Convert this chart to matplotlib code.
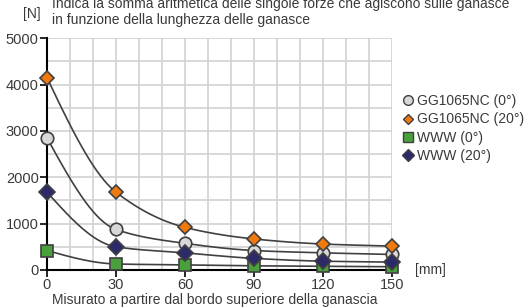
import numpy as np
import matplotlib
matplotlib.use('Agg')
import matplotlib.pyplot as plt
from matplotlib.lines import Line2D

plt.rcParams['font.family'] = ['Liberation Sans', 'DejaVu Sans']

# dati
lunghezza = [0, 30, 60, 90, 120, 150]
gg_0 = [2850, 875, 575, 420, 370, 335]
gg_20 = [4150, 1680, 920, 670, 560, 515]
alt_0 = [420, 130, 110, 90, 80, 70]
alt_20 = [1680, 500, 370, 250, 190, 170]

serie = [
    ('GG1065NC (0°)', gg_0, 'o', '#d8d8d8', 9),
    ('GG1065NC (20°)', gg_20, 'D', '#f07a10', 7),
    ('WWW (0°)', alt_0, 's', '#4aa03c', 9),
    ('WWW (20°)', alt_20, 'D', '#2d2a6a', 8),
]

col_testo = '#3a3a3a'


def curva_morbida(x, y, n=40):
    # curva cubica monotona (Fritsch-Carlson) solo per disegnare la linea
    x = np.asarray(x, float)
    y = np.asarray(y, float)
    h = np.diff(x)
    d = np.diff(y) / h
    m = np.zeros_like(y)
    m[-1] = d[-1]
    for i in range(1, len(x) - 1):
        if d[i - 1] * d[i] > 0:
            w1 = 2 * h[i] + h[i - 1]
            w2 = h[i] + 2 * h[i - 1]
            m[i] = (w1 + w2) / (w1 / d[i - 1] + w2 / d[i])
    m[0] = 1.5 * d[0] - 0.5 * m[1]
    xs, ys = [], []
    for i in range(len(x) - 1):
        t = np.linspace(0, 1, n)
        h00 = 2 * t**3 - 3 * t**2 + 1
        h10 = t**3 - 2 * t**2 + t
        h01 = -2 * t**3 + 3 * t**2
        h11 = t**3 - t**2
        xs.append(x[i] + t * h[i])
        ys.append(h00 * y[i] + h10 * h[i] * m[i] + h01 * y[i + 1] + h11 * h[i] * m[i + 1])
    return np.concatenate(xs), np.concatenate(ys)


fig = plt.figure(figsize=(5.25, 3.08), dpi=100)
ax = fig.add_axes([0.0895, 0.1234, 0.657, 0.7523])

ax.set_xlim(0, 150)
ax.set_ylim(0, 5000)
ax.set_xticks(range(0, 151, 30))
ax.set_xticks(range(0, 151, 10), minor=True)
ax.set_yticks(range(0, 5001, 1000))
ax.set_yticks(range(0, 5001, 500), minor=True)
ax.grid(True, which='both', color='#d2d2d2', linewidth=1.2)
ax.set_axisbelow(True)

for s in ['top', 'right']:
    ax.spines[s].set_visible(False)
for s in ['left', 'bottom']:
    ax.spines[s].set_color('black')
    ax.spines[s].set_linewidth(1.5)
ax.tick_params(which='major', length=5, width=1.2, color='black',
               labelsize=10.5, labelcolor=col_testo, pad=1)
ax.tick_params(which='minor', length=0)

handles = []
for nome, valori, mk, colore, ms in serie:
    xs, ys = curva_morbida(lunghezza, valori)
    ax.plot(xs, ys, color='#404040', linewidth=1.2, zorder=3, clip_on=False)
    ax.plot(lunghezza, valori, linestyle='none', marker=mk, markersize=ms,
            markerfacecolor=colore, markeredgecolor='#404040',
            markeredgewidth=1.2, zorder=4, clip_on=False)
    handles.append(Line2D([], [], linestyle='none', marker=mk, markersize=ms - 2,
                          markerfacecolor=colore, markeredgecolor='#404040',
                          markeredgewidth=1.0, label=nome))

leg = fig.legend(handles=handles, loc='upper left', bbox_to_anchor=(0.766, 0.694),
                 frameon=False, fontsize=10, handlelength=0.8, handletextpad=0.3,
                 labelspacing=0.3, borderaxespad=0, borderpad=0)
for t in leg.get_texts():
    t.set_color(col_testo)

fig.text(0.099, 0.988, 'Indica la somma aritmetica delle singole forze che agiscono sulle ganasce',
         fontsize=10, color=col_testo, va='center')
fig.text(0.099, 0.935, 'in funzione della lunghezza delle ganasce',
         fontsize=10, color=col_testo, va='center')
fig.text(0.044, 0.953, '[N]', fontsize=10, color=col_testo, va='center')
fig.text(0.79, 0.122, '[mm]', fontsize=10, color=col_testo, va='center')
fig.text(0.099, 0.027, 'Misurato a partire dal bordo superiore della ganascia',
         fontsize=10, color=col_testo, va='center')

fig.savefig('out.png', dpi=100)
